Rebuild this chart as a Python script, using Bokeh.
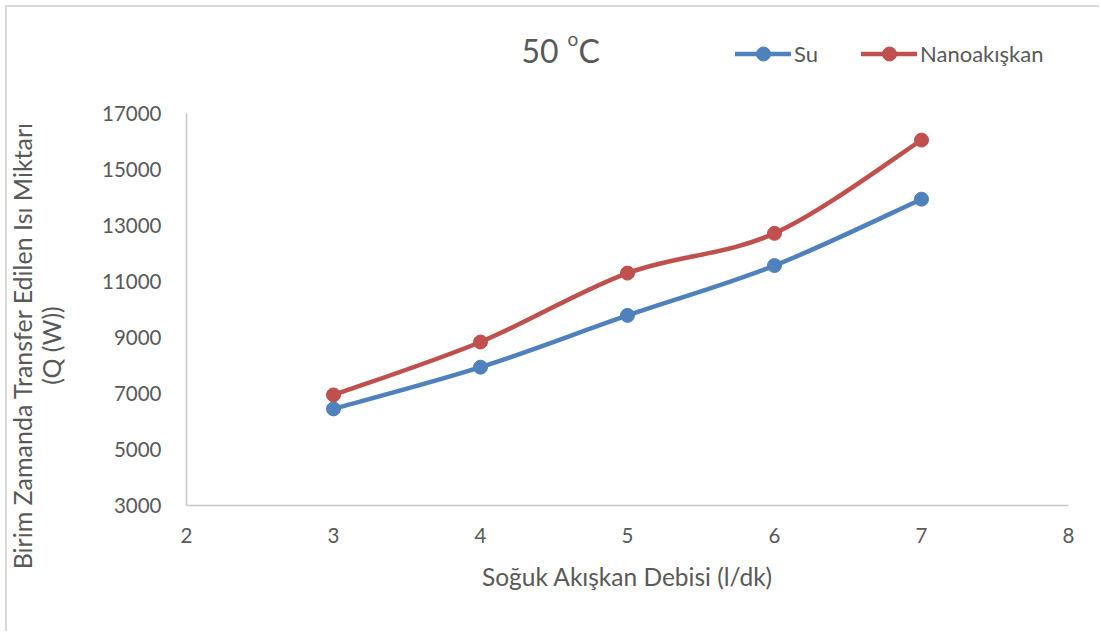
import numpy as np
from bokeh.plotting import figure
from bokeh.models import Label, Legend, LegendItem, FixedTicker, Range1d, ColumnDataSource
from bokeh.embed import file_html
from bokeh.resources import INLINE

# Cold-fluid flow rate (l/dk) and heat transferred per unit time (W)
flow = [3, 4, 5, 6, 7]
q_su = [6450, 7940, 9790, 11570, 13940]
q_nano = [6950, 8840, 11300, 12720, 16050]

x_ticks = [2, 3, 4, 5, 6, 7, 8]
y_ticks = [3000, 5000, 7000, 9000, 11000, 13000, 15000, 17000]

BLUE = "#4F81BD"
RED = "#C0504D"
TEXT = "#595959"
FONT = "Lato"

# canvas is offset by the page border (5px margin + 2px border)
OFF = 7
W, H = 1101 - OFF, 633 - OFF
# axis box edges in window pixels
AL, AR, AT, AB = 186, 1068, 113, 505
XMIN, XMAX = x_ticks[0], x_ticks[-1]
YMIN, YMAX = y_ticks[0], y_ticks[-1]


def dx(px):
    return XMIN + (px - AL) * (XMAX - XMIN) / (AR - AL)


def dy(py):
    return YMIN + (AB - py) * (YMAX - YMIN) / (AB - AT)


# the drawing area spans the whole canvas; axes sit at fixed positions inside it
p = figure(
    width=W, height=H,
    x_range=Range1d(dx(OFF), dx(1101)), y_range=Range1d(dy(633), dy(OFF)),
    output_backend="svg", toolbar_location=None,
    min_border_left=0, min_border_right=0, min_border_top=0, min_border_bottom=0,
)
p.styles = {
    "margin-left": "5px", "margin-top": "5px",
    "border-left": "2px solid #D9D9D9", "border-top": "2px solid #D9D9D9",
}
p.outline_line_color = None
p.background_fill_color = "white"
p.border_fill_color = "white"
p.grid.grid_line_color = None

p.xaxis.fixed_location = YMIN
p.yaxis.fixed_location = XMIN
p.xaxis.bounds = (XMIN, XMAX)
p.yaxis.bounds = (YMIN, YMAX)
for ax in (p.xaxis[0], p.yaxis[0]):
    ax.axis_line_color = "#C8C8C8"
    ax.axis_line_width = 1.5
    ax.major_tick_line_color = None
    ax.minor_tick_line_color = None
    ax.major_label_text_font = FONT
    ax.major_label_text_font_size = "20.5px"
    ax.major_label_text_color = TEXT
p.xaxis.ticker = FixedTicker(ticks=x_ticks)
p.yaxis.ticker = FixedTicker(ticks=y_ticks)
p.xaxis.major_label_standoff = 16
p.yaxis.major_label_standoff = 19


def smooth_segments(xs, ys):
    """Cubic Bezier segments (Catmull-Rom style) through the data points."""
    xs = np.asarray(xs, float)
    ys = np.asarray(ys, float)
    n = len(xs)
    px = np.concatenate([[xs[0]], xs, [xs[-1]]])
    py = np.concatenate([[ys[0]], ys, [ys[-1]]])
    seg = dict(x0=[], y0=[], x1=[], y1=[], cx0=[], cy0=[], cx1=[], cy1=[])
    for i in range(1, n):
        a, b = i, i + 1
        seg["x0"].append(px[a]); seg["y0"].append(py[a])
        seg["x1"].append(px[b]); seg["y1"].append(py[b])
        seg["cx0"].append(px[a] + (px[b] - px[a - 1]) / 6)
        seg["cy0"].append(py[a] + (py[b] - py[a - 1]) / 6)
        seg["cx1"].append(px[b] - (px[b + 1] - px[a]) / 6)
        seg["cy1"].append(py[b] - (py[b + 1] - py[a]) / 6)
    return ColumnDataSource(seg)


items = []
for name, ys, color in (("Su", q_su, BLUE), ("Nanoakışkan", q_nano, RED)):
    cr = p.bezier(x0="x0", y0="y0", x1="x1", y1="y1", cx0="cx0", cy0="cy0",
                  cx1="cx1", cy1="cy1", source=smooth_segments(flow, ys),
                  line_color=color, line_width=4.5, line_cap="round")
    sr = p.scatter(flow, ys, size=14, marker="circle", fill_color=color, line_color=color)
    items.append(LegendItem(label=name, renderers=[cr, sr]))

# legend swatch markers scale with the swatch height (0.4 x height)
legend = Legend(
    items=items, orientation="horizontal", location=(735 - OFF, 633 - 71),
    glyph_width=56, glyph_height=35, label_standoff=3, spacing=43,
    padding=0, margin=0, border_line_color=None, background_fill_alpha=0,
    label_text_font=FONT, label_text_font_size="22px", label_text_color=TEXT,
)
p.add_layout(legend, "center")


def add_text(text, px, py, size, angle=0.0, align="center", baseline="middle"):
    p.add_layout(Label(
        x=dx(px), y=dy(py), text=text, angle=angle,
        text_font=FONT, text_font_size=size, text_color=TEXT,
        text_align=align, text_baseline=baseline,
    ))


# title "50 °C" with a raised small o
add_text("50", 521, 50, "32px", align="left", baseline="alphabetic")
add_text("o", 567, 38, "19px", align="left", baseline="alphabetic")
add_text("C", 578, 50, "32px", align="left", baseline="alphabetic")

# axis titles
add_text("Soğuk Akışkan Debisi (l/dk)", 627, 576, "24.5px")
add_text("Birim Zamanda Transfer Edilen Isı Miktarı", 21, 345, "25px", angle=np.pi / 2)
add_text("(Q (W))", 50, 345, "25px", angle=np.pi / 2)

open("out.html", "w").write(file_html(p, INLINE))
